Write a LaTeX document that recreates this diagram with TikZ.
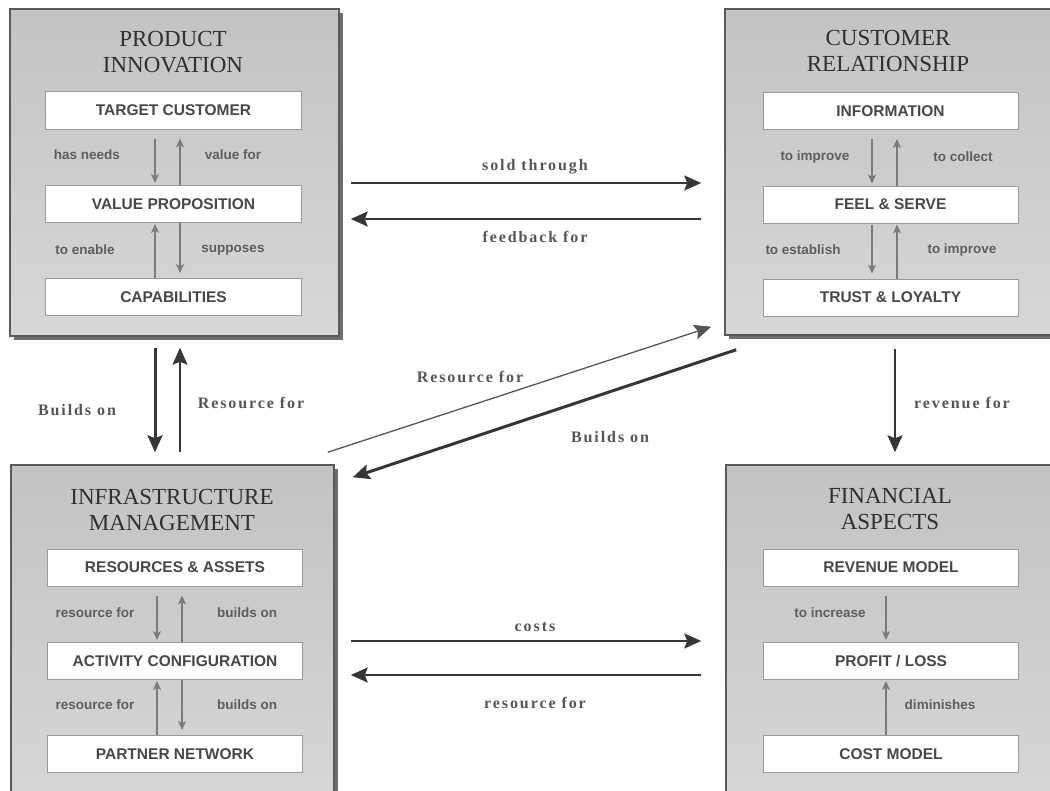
\documentclass[tikz,border=0pt]{standalone}
\usepackage{fontspec}
\setmainfont{Liberation Serif}
\newfontfamily\boxfont{Liberation Sans}
\newfontfamily\linkfont[LetterSpace=12]{Liberation Serif}
\usetikzlibrary{arrows.meta,shadows}

\definecolor{panelTop}{HTML}{C3C3C3}
\definecolor{panelBot}{HTML}{D7D7D7}
\definecolor{panelEdge}{HTML}{5A5A5A}
\definecolor{panelShadow}{HTML}{6E6E6E}
\definecolor{itemEdge}{HTML}{9A9A9A}
\definecolor{itemText}{HTML}{474747}
\definecolor{titleText}{HTML}{303030}
\definecolor{relText}{HTML}{5E5E5E}
\definecolor{relArrow}{HTML}{7A7A7A}
\definecolor{linkDark}{HTML}{363636}
\definecolor{linkText}{HTML}{555555}

\begin{document}
\begin{tikzpicture}[x=1bp,y=-1bp,
  panel/.style={draw=panelEdge, line width=1.5bp, top color=panelTop, bottom color=panelBot,
    drop shadow={shadow xshift=4bp, shadow yshift=-4bp, fill=panelShadow, opacity=1},
    inner sep=0pt},
  paneltitle/.style={align=center, text=titleText,
    font=\fontsize{23bp}{26bp}\selectfont},
  item/.style={draw=itemEdge, line width=1bp, fill=white, minimum width=255bp,
    minimum height=37bp, inner sep=0pt, text=itemText,
    font=\boxfont\bfseries\fontsize{15.5bp}{18bp}\selectfont},
  rel/.style={text=relText, inner sep=1pt,
    font=\boxfont\bfseries\fontsize{13.5bp}{16bp}\selectfont},
  inarr/.style={draw=relArrow, line width=1.3bp,
    -{Stealth[length=9bp,width=8bp,inset=2.5bp]}},
  linkarr/.style={draw=linkDark, line width=2bp,
    -{Stealth[length=17bp,width=15bp,inset=3bp]}},
  linklabel/.style={text=linkText, inner sep=1pt,
    font=\linkfont\bfseries\fontsize{16bp}{19bp}\selectfont}]

\useasboundingbox (0,0) rectangle (1050,791);
\clip (0,0) rectangle (1050,791);

% ---- the four panels (the right-hand ones run past the page edge) ----
\node[panel, minimum width=329bp, minimum height=327bp] (PI) at (174.5,172.5) {};
\node[panel, minimum width=350bp, minimum height=326bp] (CR) at (900,172) {};
\node[panel, minimum width=323bp, minimum height=355bp] (IM) at (172.5,642.5) {};
\node[panel, minimum width=350bp, minimum height=355bp] (FA) at (901,642.5) {};

\node[paneltitle] (PIt) at (173,52) {PRODUCT\\INNOVATION};
\node[paneltitle] (CRt) at (888,51) {CUSTOMER\\RELATIONSHIP};
\node[paneltitle] (IMt) at (172,510) {INFRASTRUCTURE\\MANAGEMENT};
\node[paneltitle] (FAt) at (890,509) {FINANCIAL\\ASPECTS};

% ---- product innovation ----
\node[item] (TC)  at (173.5,110.5) {TARGET CUSTOMER};
\node[item] (VP)  at (173.5,204)   {VALUE PROPOSITION};
\node[item] (CAP) at (173.5,297)   {CAPABILITIES};

\draw[inarr, shorten <=9bp, shorten >=2bp] (TC.south -| 155,0) -- (VP.north -| 155,0);
\draw[inarr, shorten >=9bp] (VP.north -| 180,0) -- (TC.south -| 180,0);
\draw[inarr, shorten >=1bp] (CAP.north -| 155,0) -- (VP.south -| 155,0);
\draw[inarr, shorten >=5bp] (VP.south -| 180,0) -- (CAP.north -| 180,0);

\node[rel] (l1) at (87,155)  {has needs};
\node[rel] (l2) at (233,155) {value for};
\node[rel] (l3) at (85,250)  {to enable};
\node[rel] (l4) at (233,250) {supposes};

% ---- customer relationship ----
\node[item] (INF) at (890.5,111)   {INFORMATION};
\node[item] (FS)  at (890.5,204.5) {FEEL \& SERVE};
\node[item] (TL)  at (890.5,297.5) {TRUST \& LOYALTY};

\draw[inarr, shorten <=9bp, shorten >=2bp] (INF.south -| 872,0) -- (FS.north -| 872,0);
\draw[inarr, shorten >=9bp] (FS.north -| 897,0) -- (INF.south -| 897,0);
\draw[inarr, shorten <=1bp, shorten >=5bp] (FS.south -| 872,0) -- (TL.north -| 872,0);
\draw[inarr, shorten >=1bp] (TL.north -| 897,0) -- (FS.south -| 897,0);

\node[rel] (l5) at (815,157) {to improve};
\node[rel] (l6) at (963,157) {to collect};
\node[rel] (l7) at (803,250) {to establish};
\node[rel] (l8) at (962,250) {to improve};

% ---- infrastructure management ----
\node[item] (RA) at (175,567.5) {RESOURCES \& ASSETS};
\node[item] (AC) at (175,661)   {ACTIVITY CONFIGURATION};
\node[item] (PN) at (175,754)   {PARTNER NETWORK};

\draw[inarr, shorten <=9bp, shorten >=2bp] (RA.south -| 157,0) -- (AC.north -| 157,0);
\draw[inarr, shorten >=9bp] (AC.north -| 182,0) -- (RA.south -| 182,0);
\draw[inarr, shorten >=1bp] (PN.north -| 157,0) -- (AC.south -| 157,0);
\draw[inarr, shorten >=5bp] (AC.south -| 182,0) -- (PN.north -| 182,0);

\node[rel] (l9)  at (95,613)  {resource for};
\node[rel] (l10) at (247,613) {builds on};
\node[rel] (l11) at (95,705)  {resource for};
\node[rel] (l12) at (247,705) {builds on};

% ---- financial aspects ----
\node[item] (RM) at (891,567.5) {REVENUE MODEL};
\node[item] (PL) at (891,661)   {PROFIT / LOSS};
\node[item] (CM) at (891,754)   {COST MODEL};

\draw[inarr, shorten <=9bp, shorten >=2bp] (RM.south -| 886,0) -- (PL.north -| 886,0);
\draw[inarr, shorten >=1bp] (CM.north -| 886,0) -- (PL.south -| 886,0);

\node[rel] (l13) at (830,613) {to increase};
\node[rel] (l14) at (940,705) {diminishes};

% ---- links between the panels ----
\draw[linkarr, shorten <=11bp, shorten >=23bp] (PI.east |- 0,183) -- (CR.west |- 0,183);
\draw[linkarr, shorten <=23bp, shorten >=11bp] (CR.west |- 0,219) -- (PI.east |- 0,219);
\node[linklabel] (k1) at (535,167) {sold through};
\node[linklabel] (k2) at (535,237) {feedback for};

\draw[linkarr, shorten <=16bp, shorten >=24bp] (IM.east |- 0,641) -- (FA.west |- 0,641);
\draw[linkarr, shorten <=24bp, shorten >=16bp] (FA.west |- 0,675) -- (IM.east |- 0,675);
\node[linklabel] (k3) at (535,627) {costs};
\node[linklabel] (k4) at (535,703) {resource for};

\draw[linkarr, line width=3bp, shorten <=11bp, shorten >=12bp] (PI.south -| 155,0) -- (IM.north -| 155,0);
\draw[linkarr, line width=1.5bp, shorten >=11bp, shorten <=12bp] (IM.north -| 180,0) -- (PI.south -| 180,0);
\node[linklabel] (k5) at (77,410)  {Builds on};
\node[linklabel] (k6) at (251,403) {Resource for};

\draw[linkarr, line width=2bp, shorten <=13bp, shorten >=12bp] (CR.south -| 895,0) -- (FA.north -| 895,0);
\node[linklabel] (k7) at (962,403) {revenue for};

\draw[linkarr, draw=linkText, line width=1.3bp]
  ([shift={(-7,-12)}]IM.north east) -- ([shift={(-13,-9)}]CR.south west);
\draw[linkarr, line width=3bp]
  ([shift={(12,14)}]CR.south west) -- ([shift={(18,13)}]IM.north east);
\node[linklabel] (k8) at (470,377) {Resource for};
\node[linklabel] (k9) at (610,437) {Builds on};

\end{tikzpicture}
\end{document}
